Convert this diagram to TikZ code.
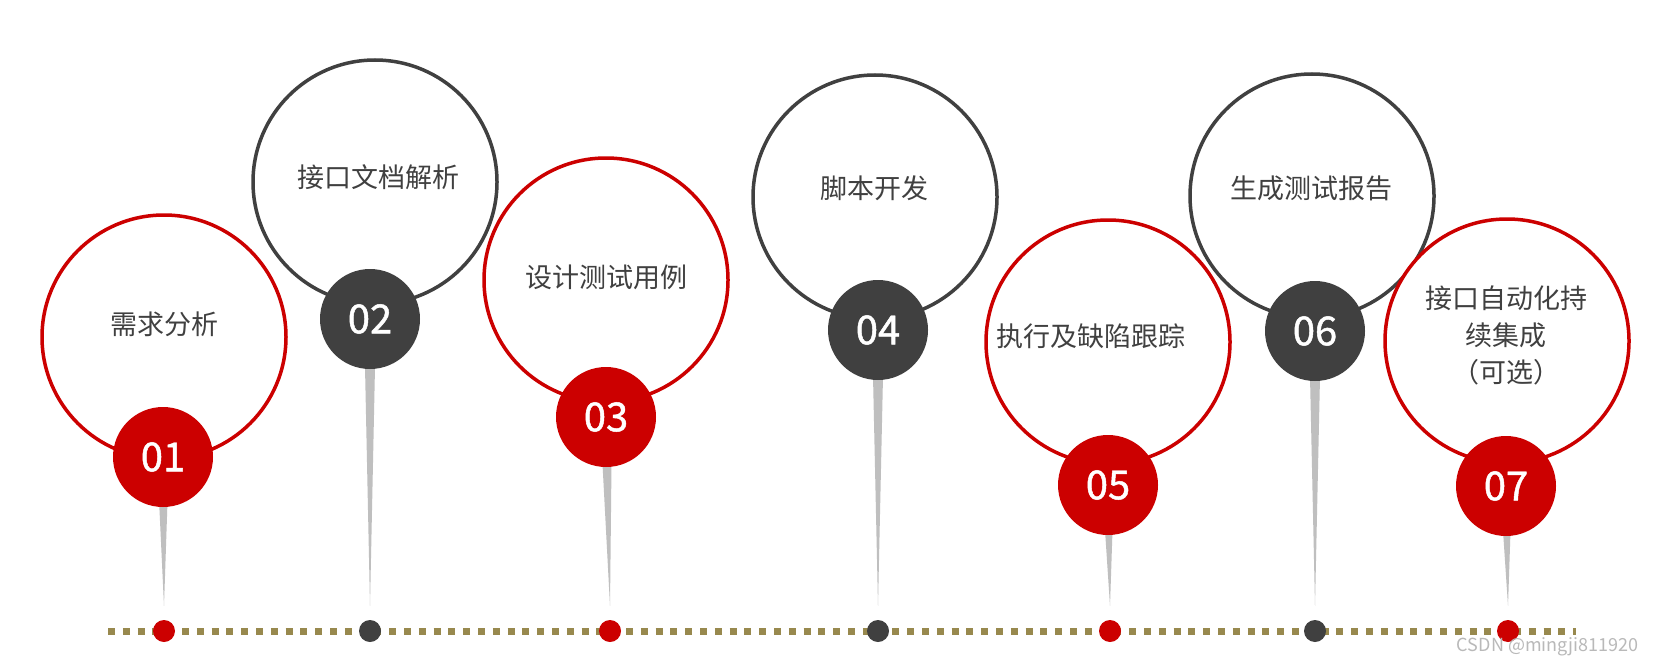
\documentclass[tikz,border=0pt]{standalone}
\usepackage{fontspec}
\setmainfont{Noto Sans CJK SC}
\newfontfamily\badgefont[FakeBold=1.2]{Noto Sans CJK SC}
\usetikzlibrary{calc}
\definecolor{stepred}{RGB}{204,0,0}
\definecolor{stepdark}{RGB}{64,64,64}
\definecolor{stemgray}{RGB}{191,191,191}
\definecolor{lineolive}{RGB}{152,137,78}

\begin{document}
\begin{tikzpicture}[x=1pt, y=-1pt,
	ring/.style={circle, draw=#1, line width=3.5pt, fill=white, minimum size=244pt, inner sep=0pt},
	badge/.style={circle, fill=#1, minimum size=100pt, inner sep=0pt, text=white, font=\badgefont\fontsize{40}{40}\selectfont},
	stepdot/.style={circle, fill=#1, minimum size=22pt, inner sep=0pt},
	steptext/.style={text=stepdark, font=\fontsize{27}{37}\selectfont, align=center},
	stem/.style={fill=stemgray}]
	% Nền trắng, cố định khung hình
	\fill[white] (0,0) rectangle (1656,666);
	\useasboundingbox (0,0) rectangle (1656,666);
	
	% Đường thời gian chấm vuông
	\coordinate (lstart) at (108,631);
	\coordinate (lend) at (1576,631);
	\draw[lineolive, line width=7pt, dash pattern=on 7pt off 7.8pt] (lstart) -- (lend);
	
	% Các bước: vòng lớn, cuống, số thứ tự, chấm trên trục
	\foreach \i/\bx/\by/\sx/\sy/\dx/\col in {1/164/337/163/457/164/stepred, 2/375/182/370/319/370/stepdark,
		3/606/280/606/417/610/stepred, 4/875/197/878/330/878/stepdark, 5/1108/342/1108/485/1110/stepred,
		6/1312/196/1315/331/1315/stepdark, 7/1507/341/1506/486/1508/stepred} {
		\node[ring=\col] (c\i) at (\bx,\by) {};
		\node[stepdot=\col] (d\i) at (\dx,631) {};
		\coordinate (n\i) at (\sx,\sy);
		\fill[stem] ($(n\i)+(-6,0)$) -- ($(n\i)+(6,0)$) -- ([yshift=14pt]d\i.north) -- cycle;
		\node[badge=\col] (b\i) at (n\i) {0\i};
	}
	
	% Nội dung từng bước
	\node[steptext] (t1) at (164,324) {需求分析};
	\node[steptext] (t2) at (378,177) {接口文档解析};
	\node[steptext] (t3) at (606,277) {设计测试用例};
	\node[steptext] (t4) at (874,188) {脚本开发};
	\node[steptext] (t5) at (1091,336) {执行及缺陷跟踪};
	\node[steptext] (t6) at (1311,188) {生成测试报告};
	\node[steptext] (t7) at (1506,335) {接口自动化持\\续集成\\（可选）};
	
	% Chữ mờ góc dưới
	\node[anchor=east, text=gray!55, font=\fontsize{18}{18}\selectfont] (wm) at (1642,647) {CSDN @mingji811920};
\end{tikzpicture}
\end{document}
